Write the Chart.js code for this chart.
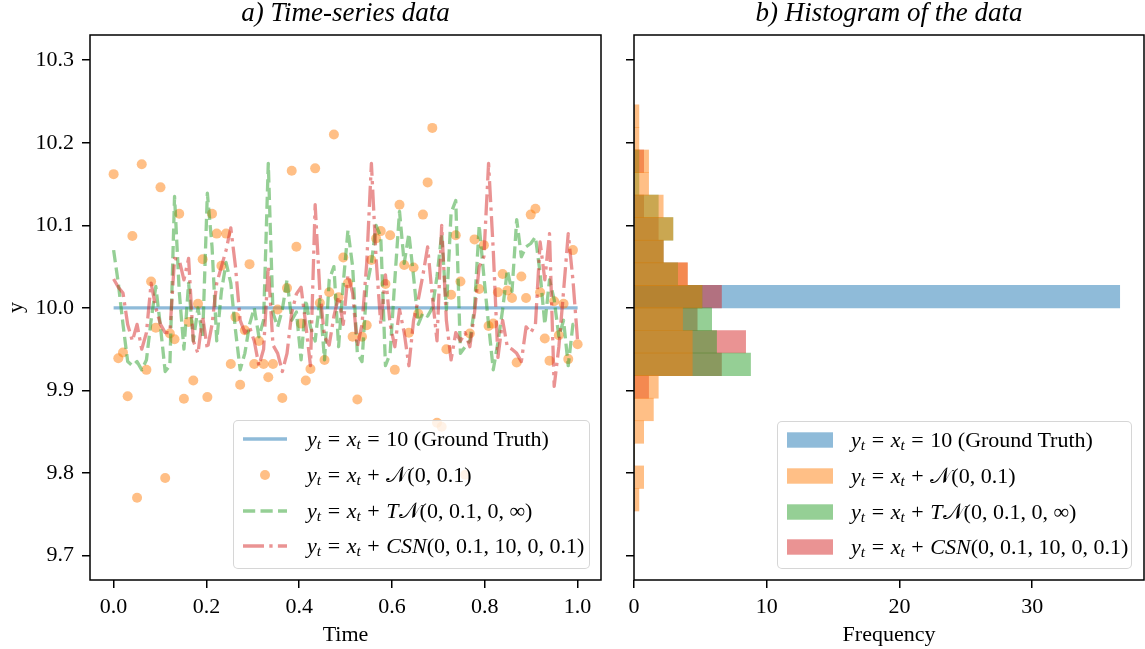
<!DOCTYPE html>
<html>
<head>
<meta charset="utf-8">
<script src="https://cdn.jsdelivr.net/npm/chart.js@4.4.1/dist/chart.umd.min.js"></script>
<style>
  body { margin: 0; background: #fff; }
  #wrap { position: relative; width: 1145px; height: 649px; font-family: "Liberation Serif", serif; color: #000; }
  #tsChart { position: absolute; left: 0; top: 0; }
  #histChart { position: absolute; left: 612px; top: 0; }
  .legend { position: absolute; background: rgba(255,255,255,0.8); border: 1px solid rgba(204,204,204,0.8); border-radius: 5px; box-sizing: border-box; }
  .row { position: absolute; left: 0; width: 100%; height: 36px; line-height: 36px; font-size: 22px; white-space: nowrap; }
  .row svg { position: absolute; left: 9px; top: 0; }
  .row .txt { position: absolute; left: 73px; top: 0; }
  .op { margin: 0 0.3em; }
  sub { font-size: 0.7em; font-style: italic; vertical-align: -0.2em; line-height: 0; }
</style>
</head>
<body>
<div id="wrap">
  <canvas id="tsChart" width="612" height="649"></canvas>
  <canvas id="histChart" width="533" height="649"></canvas>

  <div class="legend" style="left:233px; top:420px; width:357px; height:149px;">
    <div class="row" style="top:0px">
      <svg width="46" height="36"><line x1="0" y1="18" x2="44" y2="18" stroke="rgba(31,119,180,0.5)" stroke-width="3.3"/></svg>
      <span class="txt"><i>y</i><sub>t</sub><span class="op">=</span><i>x</i><sub>t</sub><span class="op">=</span>10 (Ground Truth)</span>
    </div>
    <div class="row" style="top:36px">
      <svg width="46" height="36"><circle cx="22" cy="18" r="5" fill="rgba(255,127,14,0.5)"/></svg>
      <span class="txt"><i>y</i><sub>t</sub><span class="op">=</span><i>x</i><sub>t</sub><span class="op">+</span>𝒩(0, 0.1)</span>
    </div>
    <div class="row" style="top:71.5px">
      <svg width="46" height="36"><line x1="0" y1="18" x2="44" y2="18" stroke="rgba(44,160,44,0.5)" stroke-width="3.3" stroke-dasharray="12.2 5.3"/></svg>
      <span class="txt"><i>y</i><sub>t</sub><span class="op">=</span><i>x</i><sub>t</sub><span class="op">+</span><i>T</i>𝒩(0, 0.1, 0, ∞)</span>
    </div>
    <div class="row" style="top:107px">
      <svg width="46" height="36"><line x1="0" y1="18" x2="44" y2="18" stroke="rgba(214,39,40,0.5)" stroke-width="3.3" stroke-dasharray="21 5.3 3.3 5.3"/></svg>
      <span class="txt"><i>y</i><sub>t</sub><span class="op">=</span><i>x</i><sub>t</sub><span class="op">+</span><i>CSN</i>(0, 0.1, 10, 0, 0.1)</span>
    </div>
  </div>

  <div class="legend" style="left:777px; top:421px; width:355px; height:148px;">
    <div class="row" style="top:0px">
      <svg width="46" height="36"><rect x="0" y="10.3" width="46" height="15.4" fill="rgba(31,119,180,0.5)"/></svg>
      <span class="txt"><i>y</i><sub>t</sub><span class="op">=</span><i>x</i><sub>t</sub><span class="op">=</span>10 (Ground Truth)</span>
    </div>
    <div class="row" style="top:36px">
      <svg width="46" height="36"><rect x="0" y="10.3" width="46" height="15.4" fill="rgba(255,127,14,0.5)"/></svg>
      <span class="txt"><i>y</i><sub>t</sub><span class="op">=</span><i>x</i><sub>t</sub><span class="op">+</span>𝒩(0, 0.1)</span>
    </div>
    <div class="row" style="top:71.5px">
      <svg width="46" height="36"><rect x="0" y="10.3" width="46" height="15.4" fill="rgba(44,160,44,0.5)"/></svg>
      <span class="txt"><i>y</i><sub>t</sub><span class="op">=</span><i>x</i><sub>t</sub><span class="op">+</span><i>T</i>𝒩(0, 0.1, 0, ∞)</span>
    </div>
    <div class="row" style="top:107px">
      <svg width="46" height="36"><rect x="0" y="10.3" width="46" height="15.4" fill="rgba(214,39,40,0.5)"/></svg>
      <span class="txt"><i>y</i><sub>t</sub><span class="op">=</span><i>x</i><sub>t</sub><span class="op">+</span><i>CSN</i>(0, 0.1, 10, 0, 0.1)</span>
    </div>
  </div>
</div>

<script>
// time axis: 100 evenly spaced samples on [0, 1]
const times = Array.from({ length: 100 }, (_, i) => i / 99);

const groundTruthTimes = [0, 1];
const groundTruth = [10, 10];

const normalNoise = [
  10.162, 9.939, 9.946, 9.893, 10.087, 9.770, 10.174, 9.925, 10.032, 9.976,
  10.146, 9.794, 9.969, 9.962, 10.114, 9.890, 9.983, 9.912, 10.005, 10.059,
  9.892, 10.114, 10.090, 10.051, 10.090, 9.932, 9.989, 9.907, 9.973, 10.053,
  9.932, 9.960, 9.932, 9.916, 9.932, 9.998, 9.891, 10.024, 10.166, 10.074,
  9.981, 9.912, 9.926, 10.169, 10.006, 9.937, 10.019, 10.210, 10.013, 10.061,
  10.030, 9.965, 9.889, 9.965, 9.979, 10.058, 10.084, 10.093, 10.029, 10.088,
  9.925, 10.125, 10.052, 9.970, 10.049, 9.993, 10.113, 10.152, 10.218, 9.861,
  9.856, 9.950, 10.016, 10.088, 10.032, 9.798, 9.969, 10.083, 10.023, 10.076,
  9.978, 9.981, 10.019, 10.041, 10.021, 10.012, 9.934, 10.038, 10.012, 10.113,
  10.120, 10.019, 9.963, 9.936, 10.008, 9.967, 10.005, 9.938, 10.070, 9.956
];

const truncNormal = [
  10.07, 10.03, 9.98, 9.935, 9.93, 9.935, 9.925, 9.937, 9.985, 10.026,
  9.977, 9.923, 9.93, 10.135, 10.02, 9.95, 10.03, 9.96, 10.0, 9.965,
  10.139, 10.074, 9.96, 10.02, 10.055, 10.03, 9.973, 9.925, 9.945, 9.98,
  10.0, 9.965, 9.985, 10.175, 9.994, 9.977, 9.998, 10.034, 9.985, 9.995,
  9.937, 10.01, 9.977, 9.96, 10.01, 9.937, 10.034, 10.05, 9.953, 10.03,
  10.094, 10.05, 9.945, 9.935, 10.026, 10.054, 10.1, 10.086, 9.93, 9.945,
  10.034, 10.117, 10.054, 10.09, 10.038, 9.98, 9.994, 9.99, 10.0, 10.038,
  10.09, 9.998, 10.115, 10.13, 9.945, 9.953, 9.96, 10.0, 10.1, 10.038,
  9.98, 9.925, 9.958, 9.998, 10.046, 10.02, 10.107, 10.062, 10.074, 10.078,
  10.086, 10.042, 9.98, 10.034, 10.01, 9.965, 9.985, 9.93, 9.98, 9.98
];

const csnNoise = [
  10.035, 10.025, 10.018, 9.98, 9.96, 9.98, 9.95, 9.97, 10.03, 10.0,
  9.98, 9.97, 9.97, 10.06, 10.058, 10.034, 10.06, 9.96, 9.945, 9.99,
  9.95, 9.98, 10.03, 10.05, 10.07, 10.097, 10.05, 9.985, 9.97, 9.977,
  9.96, 9.93, 9.95, 10.05, 9.955, 9.945, 9.923, 9.945, 9.994, 10.017,
  10.025, 9.98, 9.93, 10.125, 10.02, 9.965, 9.955, 9.99, 10.014, 9.98,
  10.04, 10.018, 9.953, 9.98, 10.054, 10.175, 10.06, 9.98, 10.04, 9.98,
  9.953, 9.998, 9.97, 9.93, 9.985, 10.01, 10.04, 10.074, 10.014, 9.96,
  10.1, 9.985, 9.937, 9.97, 9.96, 9.97, 9.953, 9.994, 10.05, 10.062,
  10.175, 10.07, 9.94, 9.985, 9.953, 9.95, 9.945, 9.935, 9.977, 9.97,
  9.98, 10.08, 10.034, 10.09, 9.905, 9.953, 10.02, 10.09, 10.034, 9.96
];

// histogram bins (centres) and frequency (density) per bin
const binCenters = [
  9.7677, 9.7950, 9.8224, 9.8497, 9.8770, 9.9043, 9.9317, 9.9590, 9.9863,
  10.0137, 10.0410, 10.0683, 10.0957, 10.1230, 10.1503, 10.1776, 10.2050, 10.2323
];
const histGroundTruth = [0, 0, 0, 0, 0, 0, 0, 0, 0, 36.59, 0, 0, 0, 0, 0, 0, 0, 0];
const histNormal = [0.37, 0.73, 0, 0.73, 1.46, 1.83, 4.39, 4.39, 3.66, 5.12, 4.02, 2.2, 2.93, 2.2, 1.1, 1.1, 0.37, 0.37];
const histTrunc = [0, 0, 0, 0, 0, 0, 8.78, 6.22, 5.85, 5.12, 3.29, 2.2, 2.93, 1.83, 0.37, 0.37, 0, 0];
const histCsn = [0, 0, 0, 0, 0, 1.1, 6.59, 8.41, 4.76, 6.59, 4.02, 2.2, 1.83, 0.73, 0, 0.73, 0, 0];

const yTicks = [9.7, 9.8, 9.9, 10.0, 10.1, 10.2, 10.3];
const timeTicks = [0, 0.2, 0.4, 0.6, 0.8, 1.0];
const freqTicks = [0, 10, 20, 30];

Chart.defaults.font.family = '"Liberation Serif", serif';
Chart.defaults.color = "#000";

// panel title + full box around the plot area
const panelFrame = {
  id: "panelFrame",
  afterDraw(chart, args, opts) {
    const { ctx, chartArea } = chart;
    ctx.save();
    ctx.font = 'italic 27px "Liberation Serif"';
    ctx.fillStyle = "#000";
    ctx.textAlign = "center";
    ctx.textBaseline = "middle";
    ctx.fillText(opts.text, (chartArea.left + chartArea.right) / 2, 14);
    ctx.lineWidth = 1.5;
    ctx.strokeStyle = "#000";
    ctx.strokeRect(chartArea.left, chartArea.top, chartArea.right - chartArea.left, chartArea.bottom - chartArea.top);
    ctx.restore();
  }
};

function tickGrid() {
  return { drawOnChartArea: false, drawTicks: true, tickLength: 8, color: "#000", lineWidth: 1.5, offset: false };
}

function yScale(showLabels, width) {
  return {
    type: "linear",
    min: 9.6705,
    max: 10.3305,
    bounds: "data",
    offset: false,
    afterBuildTicks: (axis) => { axis.ticks = yTicks.map((v) => ({ value: v })); },
    afterFit: (axis) => { axis.width = width; },
    grid: tickGrid(),
    border: { display: false },
    ticks: { display: showLabels, padding: 8, font: { size: 22 }, callback: (v) => v.toFixed(1) },
    title: { display: showLabels, text: "y", font: { size: 22 }, padding: { top: 3, bottom: 0 } }
  };
}

new Chart(document.getElementById("tsChart"), {
  type: "line",
  data: {
    datasets: [
      {
        data: groundTruthTimes.map((t, i) => ({ x: t, y: groundTruth[i] })),
        borderColor: "rgba(31,119,180,0.5)",
        borderWidth: 3.3,
        pointRadius: 0,
        order: 4
      },
      {
        data: times.map((t, i) => ({ x: t, y: normalNoise[i] })),
        showLine: false,
        pointRadius: 5,
        pointBackgroundColor: "rgba(255,127,14,0.5)",
        pointBorderWidth: 0,
        pointBorderColor: "rgba(0,0,0,0)",
        order: 3
      },
      {
        data: times.map((t, i) => ({ x: t, y: truncNormal[i] })),
        borderColor: "rgba(44,160,44,0.5)",
        borderWidth: 3.3,
        borderDash: [12.2, 5.3],
        borderJoinStyle: "round",
        pointRadius: 0,
        order: 2
      },
      {
        data: times.map((t, i) => ({ x: t, y: csnNoise[i] })),
        borderColor: "rgba(214,39,40,0.5)",
        borderWidth: 3.3,
        borderDash: [21, 5.3, 3.3, 5.3],
        borderJoinStyle: "round",
        pointRadius: 0,
        order: 1
      }
    ]
  },
  options: {
    responsive: false,
    animation: false,
    events: [],
    layout: { padding: { top: 35, right: 11, left: 0, bottom: 0 } },
    plugins: {
      legend: { display: false },
      tooltip: { enabled: false },
      panelFrame: { text: "a) Time-series data" }
    },
    scales: {
      x: {
        type: "linear",
        min: -0.0509,
        max: 1.0504,
        bounds: "data",
        afterBuildTicks: (axis) => { axis.ticks = timeTicks.map((v) => ({ value: v })); },
        afterFit: (axis) => { axis.height = 69; },
        grid: tickGrid(),
        border: { display: false },
        ticks: { padding: 6, maxRotation: 0, font: { size: 22 }, callback: (v) => v.toFixed(1) },
        title: { display: true, text: "Time", font: { size: 22 }, padding: { top: 0, bottom: 1 } }
      },
      y: yScale(true, 90)
    }
  },
  plugins: [panelFrame]
});

new Chart(document.getElementById("histChart"), {
  type: "bar",
  data: {
    datasets: [
      { data: binCenters.map((c, i) => ({ x: histGroundTruth[i], y: c })), backgroundColor: "rgba(31,119,180,0.5)", order: 4 },
      { data: binCenters.map((c, i) => ({ x: histNormal[i], y: c })), backgroundColor: "rgba(255,127,14,0.5)", order: 1 },
      { data: binCenters.map((c, i) => ({ x: histTrunc[i], y: c })), backgroundColor: "rgba(44,160,44,0.5)", order: 2 },
      { data: binCenters.map((c, i) => ({ x: histCsn[i], y: c })), backgroundColor: "rgba(214,39,40,0.5)", order: 3 }
    ]
  },
  options: {
    indexAxis: "y",
    responsive: false,
    animation: false,
    events: [],
    datasets: { bar: { barPercentage: 1, categoryPercentage: 1, grouped: false, borderWidth: 0 } },
    layout: { padding: { top: 35, right: 1, left: 0, bottom: 0 } },
    plugins: {
      legend: { display: false },
      tooltip: { enabled: false },
      panelFrame: { text: "b) Histogram of the data" }
    },
    scales: {
      x: {
        type: "linear",
        min: 0,
        max: 38.42,
        bounds: "data",
        afterBuildTicks: (axis) => { axis.ticks = freqTicks.map((v) => ({ value: v })); },
        afterFit: (axis) => { axis.height = 69; },
        grid: tickGrid(),
        border: { display: false },
        ticks: { padding: 6, maxRotation: 0, font: { size: 22 } },
        title: { display: true, text: "Frequency", font: { size: 22 }, padding: { top: 0, bottom: 1 } }
      },
      y: yScale(false, 22)
    }
  },
  plugins: [panelFrame]
});
</script>
</body>
</html>
